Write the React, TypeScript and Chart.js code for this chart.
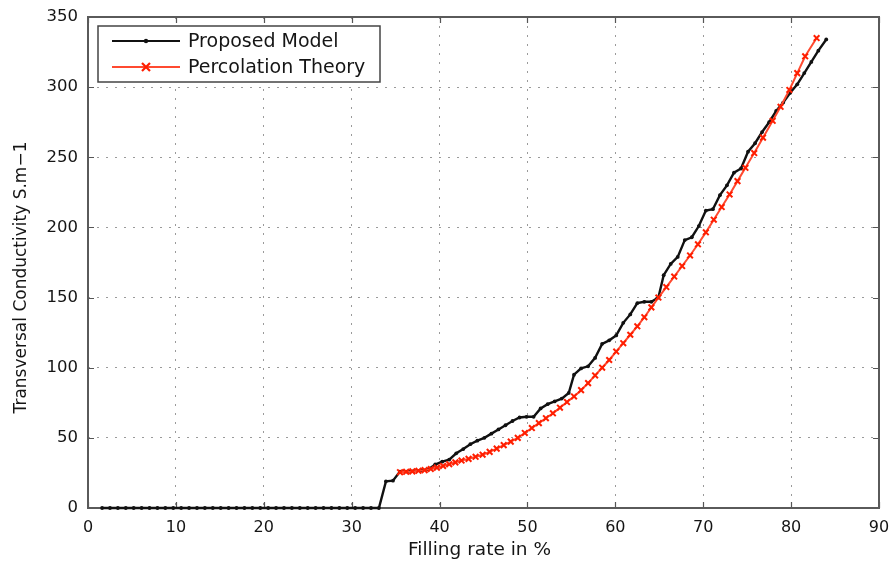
import { useEffect, useRef } from "react";
import { Chart, registerables } from "chart.js";

Chart.register(...registerables);

const FONT = "'DejaVu Sans', 'Open Sans', sans-serif";

const seriesNames = ["Proposed Model", "Percolation Theory"];
const xTitle = "Filling rate in %";
const yTitle = "Transversal Conductivity S.m\u22121";

const xTickValues = [0, 10, 20, 30, 40, 50, 60, 70, 80, 90];
const yTickValues = [0, 50, 100, 150, 200, 250, 300, 350];

// Proposed Model (black)
const blackX = [
  1.6, 2.5, 3.4, 4.3, 5.2, 6.1, 7.0, 7.9, 8.8, 9.7, 10.6, 11.5, 12.4, 13.3, 14.2, 15.1,
  16.0, 16.9, 17.8, 18.7, 19.6, 20.5, 21.4, 22.3, 23.2, 24.1, 25.0, 25.9, 26.8, 27.7,
  28.6, 29.5, 30.4, 31.3, 32.2, 33.1,
  33.9, 34.7, 35.5, 36.3, 37.1, 37.9, 38.7, 39.5, 40.3, 41.1, 41.9, 42.7, 43.5, 44.3,
  45.1, 45.9, 46.7, 47.5, 48.3, 49.1, 49.9, 50.7, 51.5, 52.3, 53.1, 53.9, 54.7, 55.3,
  56.1, 56.9, 57.7, 58.5, 59.3, 60.1, 60.9, 61.7, 62.5, 63.3, 64.1, 64.9, 65.5, 66.3,
  67.1, 67.9, 68.7, 69.5, 70.3, 71.1, 71.9, 72.7, 73.5, 74.3, 75.1, 75.9, 76.7, 77.5,
  78.3, 79.1, 79.9, 80.7, 81.5, 82.3, 83.1, 84.0,
];
const blackY = [
  0, 0, 0, 0, 0, 0, 0, 0, 0, 0, 0, 0, 0, 0, 0, 0,
  0, 0, 0, 0, 0, 0, 0, 0, 0, 0, 0, 0, 0, 0,
  0, 0, 0, 0, 0, 0,
  19, 19.5, 26, 26, 26.5, 27, 27.5, 31, 33, 34.5, 39, 42, 45.5, 48,
  50, 53, 56, 59, 62, 64.5, 65, 65, 71, 74, 76, 78, 82, 95,
  99.5, 101, 107, 117, 119.5, 123, 132, 138, 146, 147, 147, 150, 166, 174,
  179, 191, 193, 201, 212, 213, 223, 230, 239, 242, 254, 260, 268, 275,
  283, 289, 296, 302, 310, 318, 326, 334,
];

// Percolation Theory (red)
const redX = [
  35.5, 36.2, 36.9, 37.6, 38.3, 39.0, 39.7, 40.4, 41.1, 41.8, 42.5, 43.3, 44.1, 44.9,
  45.7, 46.5, 47.3, 48.1, 48.9, 49.7, 50.5, 51.3, 52.1, 52.9, 53.7, 54.5, 55.3, 56.1,
  56.9, 57.7, 58.5, 59.3, 60.1, 60.9, 61.7, 62.5, 63.3, 64.1, 64.9, 65.8, 66.7, 67.6,
  68.5, 69.4, 70.3, 71.2, 72.1, 73.0, 73.9, 74.8, 75.8, 76.8, 77.9, 78.8, 79.8, 80.7,
  81.6, 82.9,
];
const redY = [
  25.5, 25.8, 26.1, 26.5, 27.0, 27.8, 28.8, 30.0, 31.2, 32.5, 33.8, 35.0, 36.5, 38.0,
  40.0, 42.3, 44.8, 47.3, 50.0, 53.5, 57.0, 60.5, 64.0, 67.5, 71.5, 75.5, 79.5, 84.0,
  89.0, 94.5, 100.0, 105.5, 111.5, 117.5, 123.5, 129.5, 136.0, 143.0, 150.0, 157.5,
  165.0, 172.5, 180.0, 188.0, 196.5, 205.5, 214.5, 223.5, 233.0, 242.5, 253.0, 264.0,
  276.0, 286.0, 298.0, 310.0, 322.0, 335.0,
];

const BLACK = "#111111";
const RED_LINE = "#ff4a30";
const RED_MARK = "#ff1e00";
const TEXT = "#151515";

const framePlugin = {
  id: "frameAndLegend",
  beforeDatasetsDraw(chart: any) {
    const { ctx, chartArea, scales } = chart;
    const { left, right, top, bottom } = chartArea;
    const xs = scales.x;
    const ys = scales.y;
    ctx.save();
    ctx.setLineDash([]);
    ctx.strokeStyle = "#555555";
    ctx.lineWidth = 1.2;
    ctx.beginPath();
    for (const v of xTickValues) {
      const px = Math.round(xs.getPixelForValue(v)) + 0.5;
      ctx.moveTo(px, bottom);
      ctx.lineTo(px, bottom - 6);
      ctx.moveTo(px, top);
      ctx.lineTo(px, top + 6);
    }
    for (const v of yTickValues) {
      const py = Math.round(ys.getPixelForValue(v)) + 0.5;
      ctx.moveTo(left, py);
      ctx.lineTo(left + 6, py);
      ctx.moveTo(right, py);
      ctx.lineTo(right - 6, py);
    }
    ctx.stroke();
    ctx.lineWidth = 2;
    ctx.strokeStyle = "#5a5a5a";
    ctx.strokeRect(left, top, right - left, bottom - top);
    ctx.restore();
  },
  afterDraw(chart: any) {
    const { ctx, chartArea } = chart;
    const { left, right, top, bottom } = chartArea;
    ctx.save();
    ctx.setLineDash([]);

    // axis titles
    ctx.fillStyle = TEXT;
    ctx.textAlign = "center";
    ctx.textBaseline = "middle";
    ctx.font = `18.5px ${FONT}`;
    ctx.fillText(xTitle, (left + right) / 2 - 4, bottom + 42);
    ctx.save();
    ctx.translate(22, (top + bottom) / 2 + 15);
    ctx.rotate(-Math.PI / 2);
    ctx.font = `17px ${FONT}`;
    ctx.fillText(yTitle, 0, 0);
    ctx.restore();

    // legend
    const bx = left + 10;
    const by = top + 9;
    const bw = 282;
    const bh = 56;
    ctx.fillStyle = "#ffffff";
    ctx.fillRect(bx, by, bw, bh);
    ctx.lineWidth = 1.5;
    ctx.strokeStyle = "#444444";
    ctx.strokeRect(bx, by, bw, bh);

    const rows = [by + 15, by + 41];
    const x1 = bx + 14;
    const x2 = bx + 82;
    const xm = (x1 + x2) / 2;
    ctx.strokeStyle = BLACK;
    ctx.lineWidth = 2.2;
    ctx.beginPath();
    ctx.moveTo(x1, rows[0]);
    ctx.lineTo(x2, rows[0]);
    ctx.stroke();
    ctx.fillStyle = BLACK;
    ctx.beginPath();
    ctx.arc(xm, rows[0], 2.2, 0, Math.PI * 2);
    ctx.fill();
    ctx.strokeStyle = RED_LINE;
    ctx.lineWidth = 2.2;
    ctx.beginPath();
    ctx.moveTo(x1, rows[1]);
    ctx.lineTo(x2, rows[1]);
    ctx.stroke();
    ctx.strokeStyle = RED_MARK;
    ctx.lineWidth = 2.2;
    const r = 4;
    ctx.beginPath();
    ctx.moveTo(xm - r, rows[1] - r);
    ctx.lineTo(xm + r, rows[1] + r);
    ctx.moveTo(xm - r, rows[1] + r);
    ctx.lineTo(xm + r, rows[1] - r);
    ctx.stroke();

    ctx.fillStyle = TEXT;
    ctx.font = `19px ${FONT}`;
    ctx.textBaseline = "middle";
    ctx.textAlign = "left";
    ctx.fillText(seriesNames[0], bx + 90, rows[0] + 1);
    ctx.fillText(seriesNames[1], bx + 90, rows[1] + 1);
    ctx.restore();
  },
};

export default function App() {
  const ref = useRef<HTMLCanvasElement | null>(null);

  useEffect(() => {
    document.body.style.margin = "0";
    const canvas = ref.current;
    if (!canvas) return;
    const chart = new Chart(canvas, {
      type: "line",
      data: {
        datasets: [
          {
            label: seriesNames[0],
            data: blackX.map((x, i) => ({ x, y: blackY[i] })),
            borderColor: BLACK,
            backgroundColor: BLACK,
            borderWidth: 2.4,
            pointRadius: 1.9,
            pointBorderWidth: 0,
            pointStyle: "circle",
            tension: 0,
            clip: false,
            order: 2,
          },
          {
            label: seriesNames[1],
            data: redX.map((x, i) => ({ x, y: redY[i] })),
            borderColor: RED_LINE,
            backgroundColor: RED_MARK,
            borderWidth: 2,
            pointStyle: "crossRot",
            pointRadius: 4,
            pointBorderColor: RED_MARK,
            pointBorderWidth: 2,
            tension: 0,
            clip: false,
            order: 1,
          },
        ],
      },
      options: {
        animation: false,
        responsive: false,
        maintainAspectRatio: false,
        layout: { padding: { top: 17, right: 12, left: 0, bottom: 0 } },
        plugins: { legend: { display: false }, tooltip: { enabled: false } },
        scales: {
          x: {
            type: "linear",
            min: 0,
            max: 90,
            ticks: {
              stepSize: 10,
              color: TEXT,
              font: { family: FONT, size: 16 },
              padding: 10,
              maxRotation: 0,
            },
            grid: { color: "#9a9a9a", lineWidth: 1, drawTicks: false },
            border: { display: false, dash: [2, 7] },
            title: { display: false },
            afterFit: (s: any) => {
              s.height = 57;
              s.paddingLeft = 0;
              s.paddingRight = 0;
            },
          },
          y: {
            type: "linear",
            min: 0,
            max: 350,
            ticks: {
              stepSize: 50,
              color: TEXT,
              font: { family: FONT, size: 16.5 },
              padding: 10,
            },
            grid: { color: "#9a9a9a", lineWidth: 1, drawTicks: false },
            border: { display: false, dash: [2, 7] },
            title: { display: false },
            afterFit: (s: any) => {
              s.width = 88;
              s.paddingTop = 0;
              s.paddingBottom = 0;
            },
          },
        },
      },
      plugins: [framePlugin],
    });
    return () => chart.destroy();
  }, []);

  return (
    <canvas
      ref={ref}
      width={891}
      height={565}
      style={{ display: "block", width: 891, height: 565 }}
    />
  );
}
